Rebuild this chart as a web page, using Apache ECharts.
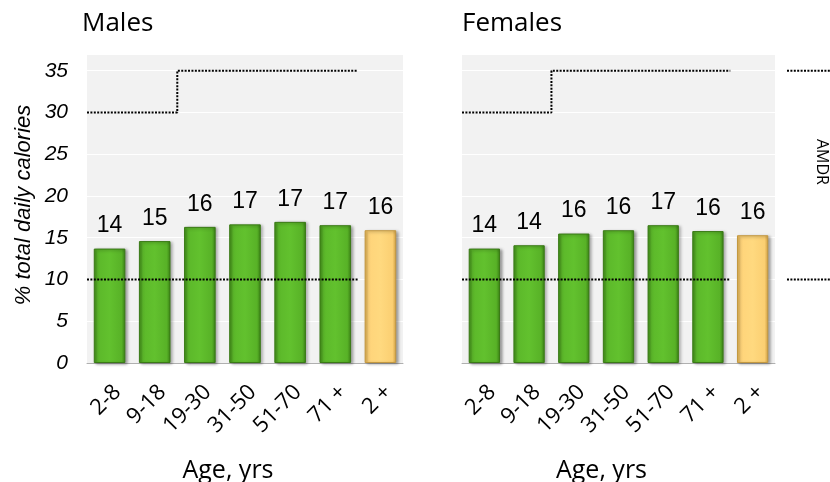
<!DOCTYPE html>
<html><head><meta charset="utf-8">
<script src="https://cdn.jsdelivr.net/npm/echarts@6/dist/echarts.min.js"></script>
<style>html,body{margin:0;padding:0;background:#fff}#c{width:830px;height:482px}</style>
</head><body><div id="c"></div>
<script>
const categories = ['2-8', '9-18', '19-30', '31-50', '51-70', '71 +', '2 +'];
const males = [13.7, 14.6, 16.3, 16.6, 16.9, 16.5, 15.9];
const maleLabels = ['14', '15', '16', '17', '17', '17', '16'];
const females = [13.7, 14.1, 15.5, 15.9, 16.5, 15.8, 15.3];
const femaleLabels = ['14', '14', '16', '16', '17', '16', '16'];
const amdrUpper = [30, 30, 35, 35, 35, 35];
const amdrLower = [10, 10, 10, 10, 10, 10];
const amdrAdult = [10, 35];
const yTicks = [0, 5, 10, 15, 20, 25, 30, 35];

const green = {type:'linear',x:0,y:0,x2:1,y2:0,colorStops:[
  {offset:0,color:'#3f8a18'},{offset:0.12,color:'#5cb82a'},{offset:0.5,color:'#62c12e'},{offset:0.88,color:'#58b227'},{offset:1,color:'#3a8015'}]};
const yellow = {type:'linear',x:0,y:0,x2:1,y2:0,colorStops:[
  {offset:0,color:'#d9a948'},{offset:0.12,color:'#ffd47a'},{offset:0.5,color:'#ffd97f'},{offset:0.88,color:'#fbcf72'},{offset:1,color:'#cf9f42'}]};

function stepPoints(arr){
  const pts = [];
  arr.forEach((v,i)=>{ pts.push([i, v]); pts.push([i+1, v]); });
  return pts;
}
function barData(vals){
  return vals.map((v,i)=>({value:v, itemStyle:{color: i===vals.length-1 ? yellow : green,
    borderColor: i===vals.length-1 ? '#c39840' : '#3a7a16'}}));
}
const dotted = {color:'#000', width:2, type:[2,1.4]};
const labelFont = {fontFamily:'Liberation Sans, Arial, sans-serif', fontSize:23, color:'#000'};
const calibri = 'Open Sans, Noto Sans, sans-serif';

const grids = [
  {left:87, top:54, width:316, height:309},
  {left:462, top:54, width:313, height:309},
  {left:787, top:54, width:43, height:309}
];
function catAxis(g){
  return {type:'category', gridIndex:g, data:categories,
    axisLine:{lineStyle:{color:'#b0b0b0', width:1}},
    axisTick:{length:7, lineStyle:{color:'#b0b0b0'}},
    axisLabel:{rotate:45, margin:18, align:'right', verticalAlign:'top', fontFamily:calibri, fontSize:22, color:'#000'},
    name:'Age, yrs', nameLocation:'middle', nameGap:95,
    nameTextStyle:{fontFamily:calibri, fontSize:25, color:'#000', padding:[0,34,0,0]}};
}
function valAxis(g, showLabels){
  return {type:'value', gridIndex:g, min:0, max:37, interval:5,
    axisLine:{show:false}, axisTick:{show:false},
    axisLabel:{show:showLabels, margin:19, fontFamily:'Liberation Sans, Arial, sans-serif', fontStyle:'italic', fontSize:21, color:'#000',
      formatter: v => yTicks.includes(v) ? String(v) : ''},
    splitLine:{show:g!==2, lineStyle:{color:'#ffffff', width:1}}};
}
const option = {
  animation:false,
  grid: grids.map((g,i)=>Object.assign({show:i<2, backgroundColor:'#f2f2f2', borderWidth:0, containLabel:false, outerBoundsMode:'none'}, g)),
  xAxis:[catAxis(0), catAxis(1),
    {type:'value', gridIndex:0, min:0, max:7, show:false},
    {type:'value', gridIndex:1, min:0, max:7, show:false},
    {type:'value', gridIndex:2, min:0, max:1, show:false}],
  yAxis:[valAxis(0,true), valAxis(1,false), Object.assign(valAxis(2,false),{show:false})],
  series:[
    {type:'bar', xAxisIndex:0, yAxisIndex:0, data:barData(males), barWidth:'70%',
      itemStyle:{borderWidth:1, shadowBlur:3, shadowColor:'rgba(0,0,0,0.35)', shadowOffsetX:2, shadowOffsetY:1},
      label:Object.assign({show:true, position:'top', distance:11, formatter:p=>maleLabels[p.dataIndex]}, labelFont)},
    {type:'bar', xAxisIndex:1, yAxisIndex:1, data:barData(females), barWidth:'70%',
      itemStyle:{borderWidth:1, shadowBlur:3, shadowColor:'rgba(0,0,0,0.35)', shadowOffsetX:2, shadowOffsetY:1},
      label:Object.assign({show:true, position:'top', distance:11, formatter:p=>femaleLabels[p.dataIndex]}, labelFont)},
    {type:'line', xAxisIndex:2, yAxisIndex:0, data:stepPoints(amdrUpper), symbol:'none', lineStyle:dotted, z:5},
    {type:'line', xAxisIndex:2, yAxisIndex:0, data:stepPoints(amdrLower), symbol:'none', lineStyle:dotted, z:5},
    {type:'line', xAxisIndex:3, yAxisIndex:1, data:stepPoints(amdrUpper), symbol:'none', lineStyle:dotted, z:5},
    {type:'line', xAxisIndex:3, yAxisIndex:1, data:stepPoints(amdrLower), symbol:'none', lineStyle:dotted, z:5},
    {type:'line', xAxisIndex:4, yAxisIndex:2, data:[[0,amdrAdult[1]],[1,amdrAdult[1]]], symbol:'none', lineStyle:dotted},
    {type:'line', xAxisIndex:4, yAxisIndex:2, data:[[0,amdrAdult[0]],[1,amdrAdult[0]]], symbol:'none', lineStyle:dotted}
  ],
  graphic:[
    {type:'text', left:82, top:11, style:{text:'Males', font:'26px "Open Sans"', fill:'#000'}},
    {type:'text', left:462, top:11, style:{text:'Females', font:'26px "Open Sans"', fill:'#000'}},
    {type:'text', x:24, y:205, rotation:Math.PI/2, style:{text:'% total daily calories', font:'italic 22px "Liberation Sans"', fill:'#000', align:'center', verticalAlign:'middle'}},
    {type:'text', x:822, y:162, rotation:-Math.PI/2, style:{text:'AMDR', font:'16px "Open Sans"', fill:'#000', align:'center', verticalAlign:'middle'}}
  ]
};
echarts.init(document.getElementById('c')).setOption(option);
</script></body></html>
